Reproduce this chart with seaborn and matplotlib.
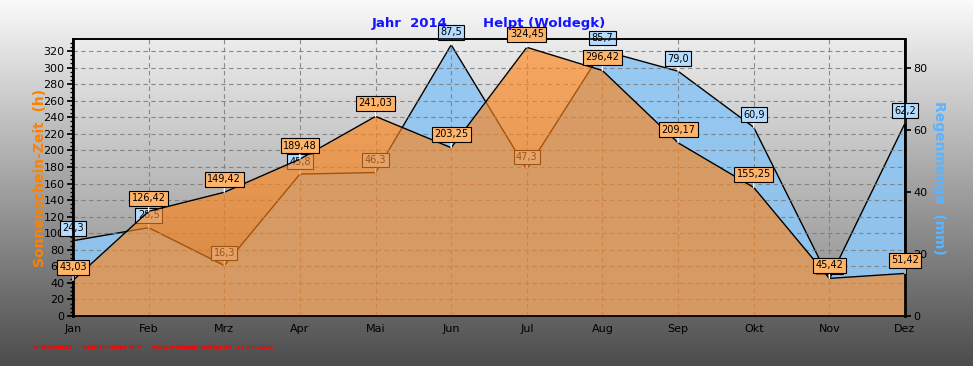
import matplotlib
matplotlib.use('Agg')
import matplotlib.pyplot as plt
import numpy as np
import seaborn as sns
from matplotlib.colors import LinearSegmentedColormap
from matplotlib.ticker import MultipleLocator

# ── Data ────────────────────────────────────────────────────
months = ['Jan', 'Feb', 'Mrz', 'Apr', 'Mai', 'Jun', 'Jul', 'Aug', 'Sep', 'Okt', 'Nov', 'Dez']
sunshine_h = [43.03, 126.42, 149.42, 189.48, 241.03, 203.25, 324.45, 296.42, 209.17, 155.25, 45.42, 51.42]
rain_mm = [24.3, 28.5, 16.3, 45.8, 46.3, 87.5, 47.3, 85.7, 79.0, 60.9, 11.9, 62.2]
left_ticks = list(range(0, 321, 20))
right_ticks = [0, 20, 40, 60, 80]

sns.set_theme(style='white')
plt.rcParams['font.family'] = ['DejaVu Sans']

W, H = 973, 366
fig = plt.figure(figsize=(W / 100, H / 100), dpi=100)

# figure background gradient
bg = fig.add_axes([0, 0, 1, 1], zorder=-100)
bg_cmap = LinearSegmentedColormap.from_list('bg', ['#fafafa', '#4c4c4c'])
bg.imshow(np.linspace(0, 1, 256).reshape(-1, 1), aspect='auto', cmap=bg_cmap,
          extent=[0, 1, 0, 1], origin='upper')
bg.axis('off')

x = np.arange(len(months))
left, right, top, bottom = 73, 905, 39, 316
ax1 = fig.add_axes([left / W, 1 - bottom / H, (right - left) / W, (bottom - top) / H])
ax2 = ax1.twinx()
ax1.set_zorder(ax2.get_zorder() + 1)
ax1.patch.set_visible(False)

# plot area gradient (on the lower axes)
pa_cmap = LinearSegmentedColormap.from_list('pa', ['#ececec', '#8a8a8a'])
ax2.imshow(np.linspace(0, 1, 256).reshape(-1, 1), aspect='auto', cmap=pa_cmap,
           extent=[0, 1, 0, 1], origin='upper', transform=ax2.transAxes, zorder=-10)

ax1.set_xlim(0, 11)
ax1.set_ylim(0, 334.5)
ax2.set_ylim(0, 89.4)

# rain (right axis, drawn underneath)
ax2.fill_between(x, rain_mm, 0, color='#8ec6f4', alpha=0.9, lw=0, zorder=1)
sns.lineplot(x=x, y=rain_mm, ax=ax2, color='black', lw=1, zorder=2)

# grid on upper axes
ax1.grid(True, axis='both', color='#7a7a7a', linestyle=(0, (4, 3)), lw=0.8, alpha=0.85, zorder=0.5)
ax1.set_axisbelow(True)

# rain labels (under the sunshine fill)
for xi, r in zip(x, rain_mm):
    ax1.annotate(f'{r:.1f}'.replace('.', ','), xy=(xi, r), xycoords=ax2.transData,
                 xytext=(0, 9), textcoords='offset points', ha='center', va='center',
                 fontsize=7, color='black', zorder=1.5, annotation_clip=False,
                 bbox=dict(boxstyle='square,pad=0.25', fc='#b4dcff', ec='black', lw=0.8),
                 arrowprops=dict(arrowstyle='-', color='white', lw=1, shrinkA=0, shrinkB=0))

# sunshine (left axis, on top)
ax1.fill_between(x, sunshine_h, 0, color='#ff8418', alpha=0.64, lw=0, zorder=2)
sns.lineplot(x=x, y=sunshine_h, ax=ax1, color='black', lw=1, zorder=3)
for xi, s in zip(x, sunshine_h):
    ax1.annotate(f'{s:.2f}'.replace('.', ','), xy=(xi, s),
                 xytext=(0, 9.5), textcoords='offset points', ha='center', va='center',
                 fontsize=7, color='black', zorder=5, annotation_clip=False,
                 bbox=dict(boxstyle='square,pad=0.25', fc='#ffb46a', ec='black', lw=0.8),
                 arrowprops=dict(arrowstyle='-', color='white', lw=1, shrinkA=0, shrinkB=0))

# axes styling
ax1.set_xticks(x)
ax1.set_xticklabels(months, fontsize=8, color='black')
ax1.xaxis.set_minor_locator(MultipleLocator(0.25))
ax1.set_yticks(left_ticks)
ax1.set_yticklabels([str(t) for t in left_ticks], fontsize=8, color='black')
ax1.yaxis.set_minor_locator(MultipleLocator(5))
ax2.set_yticks(right_ticks)
ax2.set_yticklabels([str(t) for t in right_ticks], fontsize=8, color='black')
ax1.tick_params(axis='x', which='major', length=3, color='#dddddd', direction='out', pad=3)
ax1.tick_params(axis='x', which='minor', length=2, color='#bbbbbb', direction='out')
ax1.tick_params(axis='y', which='major', length=4, color='black', direction='out', pad=2, left=True)
ax1.tick_params(axis='y', which='minor', length=2, color='black', direction='out', left=True)
ax2.tick_params(axis='y', length=4, color='black', direction='out', pad=2, right=True)
for ax in (ax1, ax2):
    for sp in ax.spines.values():
        sp.set_color('black')
        sp.set_linewidth(1.2)
ax1.spines['left'].set_linewidth(2)
ax2.spines['right'].set_linewidth(2)
ax1.set_xlabel('')
ax1.set_ylabel('')
ax2.set_ylabel('')

# titles and axis labels
fig.text(410 / W, 1 - 24 / H, 'Jahr  2014', color='#1414ff', fontsize=9.5,
         fontweight='bold', ha='center', va='center')
fig.text(544 / W, 1 - 24 / H, 'Helpt (Woldegk)', color='#1414ff', fontsize=9.5,
         fontweight='bold', ha='center', va='center')
fig.text(40 / W, 1 - 178 / H, 'Sonnenschein-Zeit  (h)', color='#ff8000',
         fontsize=10, fontweight='bold', rotation=90, ha='center', va='center')
fig.text(939 / W, 1 - 178 / H, 'Regenmenge  (mm)', color='#5cb4ff',
         fontsize=10, fontweight='bold', rotation=-90, ha='center', va='center')
fig.text(33 / W, 1 - 347 / H,
         '© WsWin32  -  Station Helpt M-V  -  www.woldegk-wetter.de  11.04.2022',
         color='#ff0000', fontsize=4.2, fontweight='bold', ha='left', va='center')

fig.savefig('out.png', dpi=100)
